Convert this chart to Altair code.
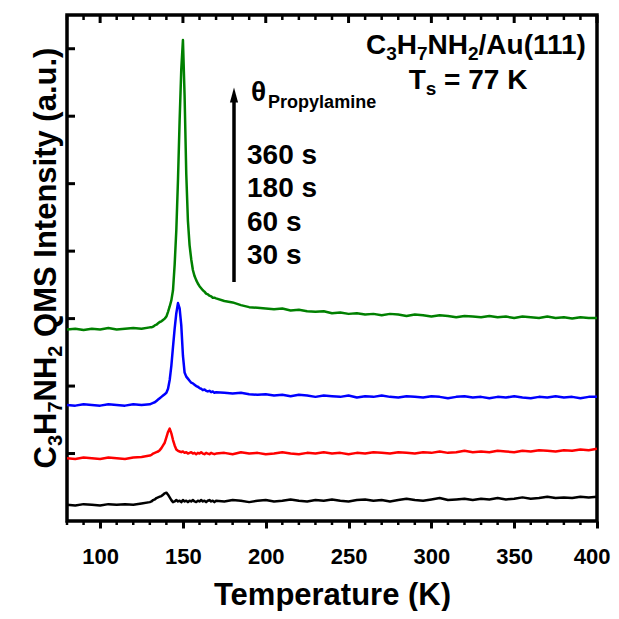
import altair as alt
import pandas as pd

# ---------------- data ----------------
T_low = [80, 85, 90, 95, 100, 105, 110, 115, 120, 125, 130]
T_mid = list(range(131, 171))
T_high = list(range(175, 401, 5))
temps = T_low + T_mid + T_high

green = [2.84, 2.85, 2.83, 2.85, 2.84, 2.86, 2.84, 2.85, 2.86, 2.85, 2.87,
         2.87, 2.88, 2.90, 2.91, 2.93, 2.95, 2.96, 2.98, 3.00, 3.03,
         3.10, 3.18, 3.27, 3.42, 3.80, 4.31, 5.05, 5.94, 6.70, 7.13,
         6.30, 5.15, 4.45, 4.09, 3.88, 3.72, 3.63, 3.57, 3.52, 3.48,
         3.45, 3.42, 3.40, 3.37, 3.36, 3.34, 3.33, 3.31, 3.31, 3.30,
         3.26, 3.24, 3.20, 3.17, 3.16, 3.15, 3.14, 3.15, 3.12, 3.13,
         3.11, 3.10, 3.11, 3.08, 3.09, 3.07, 3.08, 3.06, 3.07, 3.05,
         3.07, 3.06, 3.04, 3.06, 3.05, 3.03, 3.05, 3.04, 3.02, 3.04,
         3.03, 3.02, 3.04, 3.02, 3.03, 3.01, 3.03, 3.02, 3.01, 3.03,
         3.01, 3.02, 3.00, 3.02, 3.01, 3.01]

blue = [1.72, 1.71, 1.73, 1.72, 1.71, 1.73, 1.72, 1.71, 1.73, 1.72, 1.73,
        1.74, 1.75, 1.76, 1.78, 1.80, 1.82, 1.84, 1.86, 1.88, 1.90,
        1.96, 2.09, 2.30, 2.58, 2.85, 3.08, 3.23, 3.15, 2.90, 2.45,
        2.20, 2.14, 2.11, 2.08, 2.05, 2.04, 2.02, 2.00, 1.99, 1.97,
        1.96, 1.94, 1.95, 1.93, 1.92, 1.93, 1.91, 1.92, 1.90, 1.91,
        1.90, 1.89, 1.90, 1.88, 1.87, 1.88, 1.86, 1.87, 1.85, 1.87,
        1.86, 1.84, 1.86, 1.85, 1.84, 1.86, 1.83, 1.85, 1.84, 1.86,
        1.84, 1.83, 1.85, 1.84, 1.83, 1.85, 1.84, 1.82, 1.84, 1.85,
        1.83, 1.84, 1.82, 1.84, 1.83, 1.85, 1.83, 1.82, 1.84, 1.83,
        1.85, 1.83, 1.84, 1.82, 1.84, 1.84]

red = [0.93, 0.92, 0.94, 0.93, 0.92, 0.94, 0.93, 0.92, 0.94, 0.95, 0.97,
       0.98, 1.00, 1.01, 1.02, 1.03, 1.05, 1.08, 1.12, 1.16, 1.24,
       1.32, 1.37, 1.30, 1.20, 1.12, 1.06, 1.04, 1.03, 1.02, 1.03,
       1.01, 1.02, 1.00, 1.01, 1.02, 1.00, 1.01, 0.99, 1.01, 1.00,
       1.02, 1.00, 0.99, 1.01, 1.00, 0.99, 1.01, 1.00, 0.99, 1.00,
       1.01, 0.99, 1.02, 1.00, 1.01, 0.99, 1.00, 1.02, 1.00, 0.99,
       1.01, 1.00, 1.02, 1.00, 1.01, 0.99, 1.01, 1.00, 1.02, 1.01,
       1.00, 1.02, 1.01, 1.00, 1.02, 1.01, 1.03, 1.01, 1.02, 1.04,
       1.02, 1.03, 1.02, 1.04, 1.03, 1.02, 1.04, 1.03, 1.05, 1.04,
       1.03, 1.05, 1.04, 1.06, 1.05, 1.07]

black = [0.24, 0.23, 0.25, 0.24, 0.23, 0.25, 0.24, 0.25, 0.24, 0.26, 0.28,
         0.29, 0.31, 0.32, 0.34, 0.35, 0.36, 0.37, 0.39, 0.41, 0.42,
         0.39, 0.35, 0.31, 0.28, 0.29, 0.31, 0.29, 0.30, 0.28, 0.31,
         0.29, 0.30, 0.28, 0.30, 0.29, 0.31, 0.29, 0.28, 0.30, 0.29,
         0.31, 0.29, 0.30, 0.28, 0.30, 0.31, 0.29, 0.30, 0.28, 0.30,
         0.29, 0.31, 0.30, 0.28, 0.30, 0.31, 0.29, 0.30, 0.32, 0.30,
         0.29, 0.31, 0.30, 0.32, 0.30, 0.29, 0.31, 0.32, 0.30, 0.31,
         0.29, 0.31, 0.33, 0.31, 0.30, 0.32, 0.34, 0.31, 0.32, 0.33,
         0.31, 0.33, 0.32, 0.34, 0.32, 0.33, 0.35, 0.33, 0.34, 0.36,
         0.34, 0.35, 0.34, 0.36, 0.35, 0.36]

series_names = ["30 s", "60 s", "180 s", "360 s"]
series_values = [black, red, blue, green]
series_colors = ["#000000", "#ff0000", "#0000ff", "#008000"]

x_major = [100, 150, 200, 250, 300, 350, 400]
x_minor = [t for t in range(80, 401, 10) if t not in x_major]
y_major = [1, 2, 3, 4, 5, 6, 7]

for v in series_values:
    assert len(v) == len(temps), (len(v), len(temps))

rows = []
for name, vals in zip(series_names, series_values):
    for t, v in zip(temps, vals):
        rows.append({"T": t, "I": v, "s": name})
df = pd.DataFrame(rows)

# ---------------- layout helpers ----------------
W, H = 530, 506
X0, X1 = 80, 400
Y0, Y1 = 0, 7.5
FONT = "Liberation Sans"


def px2T(px):
    return X0 + px / W * (X1 - X0)


def py2Y(py):
    return Y1 - py / H * (Y1 - Y0)


WID = {"C": .722, "H": .722, "N": .722, "A": .722, "K": .722, "Q": .778, "M": .833,
       "S": .667, "I": .278, "T": .611, "P": .667, "n": .611, "t": .333, "e": .556,
       "s": .556, "i": .278, "y": .556, "(": .333, ")": .333, "a": .556, ".": .278,
       "u": .611, "/": .278, " ": .278, "=": .584, "r": .389, "o": .611,
       "p": .611, "l": .278, "m": .889, "θ": .611}


def tw(text, size):
    return sum(WID.get(c, .556) for c in text) * size


xs = alt.Scale(domain=[X0, X1], nice=False, zero=False)
ys = alt.Scale(domain=[Y0, Y1], nice=False, zero=False)
xaxis = alt.Axis(values=x_major, title="Temperature (K)", domain=False, grid=False,
                 tickSize=7, tickWidth=3, tickColor="black",
                 labelFont=FONT, labelFontWeight="bold", labelFontSize=22,
                 labelColor="black", labelPadding=18, labelFlush=True,
                 labelFlushOffset=13,
                 titleFont=FONT, titleFontWeight="bold", titleFontSize=31,
                 titleColor="black", titlePadding=13)


def X(field):
    return alt.X(field, scale=xs, axis=xaxis)


def Y(field):
    return alt.Y(field, scale=ys, axis=None)


def split_lead(text):
    """leading spaces are dropped by the renderer: turn them into an offset"""
    n = len(text) - len(text.lstrip(" "))
    return n, text.lstrip(" ")


# horizontal text pieces (page coordinates -> data coordinates)
pieces = []


def add_run(segs, start_px, base_py, main, sub, dsub):
    x = start_px
    for text, is_sub in segs:
        fs = sub if is_sub else main
        n, body = split_lead(text)
        x += n * 0.278 * fs
        pieces.append({"T": px2T(x - 67), "Y": py2Y(base_py + (dsub if is_sub else 0) - 15),
                       "txt": body, "fs": fs})
        x += tw(body, fs)


def run_width(segs, main, sub):
    return sum(tw(t, sub if s else main) for t, s in segs)


seg1 = [("C", 0), ("3", 1), ("H", 0), ("7", 1), ("NH", 0), ("2", 1), ("/Au(111)", 0)]
add_run(seg1, 589 - run_width(seg1, 28, 19), 54, 28, 19, 6)
seg2 = [("T", 0), ("s", 1), (" = 77 K", 0)]
add_run(seg2, 468 - run_width(seg2, 28, 19) / 2, 89, 28, 19, 6)
add_run([("θ", 0), ("Propylamine", 1)], 251, 101, 28, 18, 7)
for lab, bp in zip(["360 s", "180 s", "60 s", "30 s"], [164, 197, 231, 264]):
    add_run([(lab, 0)], 247, bp, 28, 18, 0)
pdf = pd.DataFrame(pieces)

# rotated y title pieces
rot = []
ysegs = [("C", 0), ("3", 1), ("H", 0), ("7", 1), ("NH", 0), ("2", 1),
         (" QMS Intensity (a.u.)", 0)]
total = run_width(ysegs, 31, 20)
yy = 258 + total / 2
for text, is_sub in ysegs:
    fs = 20 if is_sub else 31
    n, body = split_lead(text)
    yy -= n * 0.278 * fs
    rot.append({"T": px2T(56 + (6 if is_sub else 0) - 67), "Y": py2Y(yy - 15), "txt": body, "fs": fs})
    yy -= tw(body, fs)
rdf = pd.DataFrame(rot)

# ---------------- chart ----------------
lines = alt.Chart(df).mark_line(strokeWidth=2.5, strokeJoin="round").encode(
    x=X("T:Q"),
    y=Y("I:Q"),
    color=alt.Color("s:N", scale=alt.Scale(domain=series_names, range=series_colors), legend=None),
    order=alt.Order("T:Q"),
)

minor_df = pd.DataFrame({"T": x_minor})
major_df = pd.DataFrame({"T": x_major})
ymaj_df = pd.DataFrame({"Y": y_major})

bottom_minor = alt.Chart(minor_df).mark_rule(strokeWidth=2.5, color="black").encode(
    x=X("T:Q"), y=alt.value(H), y2=alt.value(H + 4))
top_minor = alt.Chart(minor_df).mark_rule(strokeWidth=2.5, color="black").encode(
    x=X("T:Q"), y=alt.value(0), y2=alt.value(5))
top_major = alt.Chart(major_df).mark_rule(strokeWidth=3, color="black").encode(
    x=X("T:Q"), y=alt.value(0), y2=alt.value(8))
left_major = alt.Chart(ymaj_df).mark_rule(strokeWidth=3, color="black").encode(
    y=Y("Y:Q"), x=alt.value(0), x2=alt.value(8))

arrow_df = pd.DataFrame({"T": [px2T(234 - 67)], "Y": [py2Y(282 - 15)], "Y2": [py2Y(100 - 15)],
                         "Yh": [py2Y(95 - 15)]})
shaft = alt.Chart(arrow_df).mark_rule(strokeWidth=3.5, color="black").encode(
    x=X("T:Q"), y=Y("Y:Q"), y2="Y2:Q")
head = alt.Chart(arrow_df).mark_point(shape="M0,-1L-0.55,1L0.55,1Z", size=220, filled=True,
                                      color="black", opacity=1).encode(
    x=X("T:Q"), y=Y("Yh:Q"))

texts = alt.Chart(pdf).mark_text(align="left", baseline="alphabetic", font=FONT,
                                 fontWeight="bold", color="black").encode(
    x=X("T:Q"), y=Y("Y:Q"),
    text="txt:N", size=alt.Size("fs:Q", scale=None, legend=None))

ytitle = alt.Chart(rdf).mark_text(align="left", baseline="alphabetic", font=FONT,
                                  fontWeight="bold", color="black", angle=270).encode(
    x=X("T:Q"), y=Y("Y:Q"),
    text="txt:N", size=alt.Size("fs:Q", scale=None, legend=None))

chart = alt.layer(lines, bottom_minor, top_minor, top_major, left_major, shaft, head,
                  texts, ytitle).properties(
    width=W, height=H,
    autosize=alt.AutoSizeParams(type="none"),
    padding={"left": 59, "top": 7, "right": 14, "bottom": 90},
    background="white",
).configure_view(stroke="black", strokeWidth=3.5, clip=False)

chart.save("out.html", embed_options={"renderer": "svg", "actions": False})
